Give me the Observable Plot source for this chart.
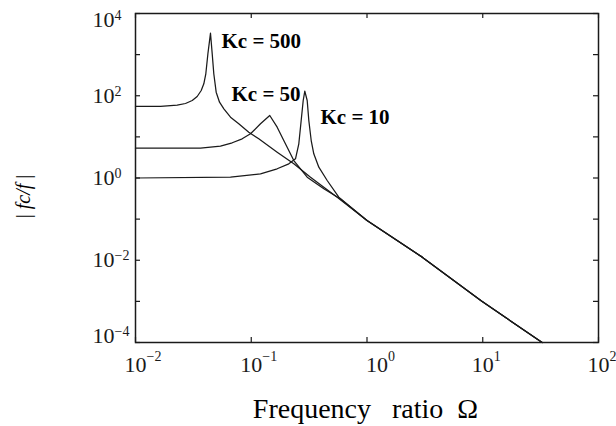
<!DOCTYPE html>
<html><head><meta charset="utf-8">
<script src="https://cdn.jsdelivr.net/npm/d3@7"></script>
<script src="https://cdn.jsdelivr.net/npm/@observablehq/plot@0.6"></script>
<style>body{margin:0;background:#fff;} svg{display:block;}</style>
</head><body><div id="chart"></div>
<script>
// ---- data ----
const omega500 = [0.01, 0.01645, 0.02291, 0.02704, 0.03090, 0.03412, 0.03696, 0.03892, 0.04050, 0.04222, 0.04446,
  0.04599, 0.04747, 0.04977, 0.0532, 0.058, 0.0662, 0.078, 0.0952, 0.1161, 0.1675, 0.2332, 0.325, 0.4236, 0.553,
  1, 3, 9.75, 32.6];
const mag500   = [54.8, 55.5, 58.9, 64.8, 76.6, 95.9, 134, 195, 342, 1047, 3320,
  1047, 342, 122, 69.7, 48.2, 30.1, 20.8, 13.0, 8.98, 4.24, 2.21, 1.046, 0.597, 0.341,
  0.0926, 0.0119, 0.00102, 0.0001];
const omega50  = [0.01, 0.03644, 0.0542, 0.0685, 0.0835, 0.0985, 0.1202, 0.1445,
  0.1675, 0.191, 0.2332, 0.3043, 0.4236, 0.5904, 1, 3, 9.75, 32.6];
const mag50    = [5.30, 5.30, 5.93, 7.18, 8.98, 11.9, 20.8, 33.1,
  17.2, 8.16, 2.66, 1.046, 0.546, 0.3086, 0.0926, 0.0119, 0.00102, 0.0001];
const omega10  = [0.01, 0.0662, 0.1202, 0.1675, 0.2111, 0.2411, 0.2576, 0.270, 0.2811, 0.2902,
  0.3043, 0.3143, 0.3296, 0.347, 0.3835, 0.453, 0.5705, 1, 3, 9.75, 32.6];
const mag10    = [1.0, 1.046, 1.265, 1.674, 2.21, 2.93, 6.79, 25.0, 76.6, 129,
  76.6, 25.0, 8.16, 3.88, 1.83, 0.869, 0.341, 0.0926, 0.0119, 0.00102, 0.0001];

const kcLabels = ["Kc = 500", "Kc = 50", "Kc = 10"];
const kcLabelX = [0.0553, 0.0675, 0.3965];
const kcLabelY = [1466, 76.6, 20.8];

const xTickValues = [0.01, 0.1, 1, 10, 100];
const xTickExps   = ["\u22122", "\u22121", "0", "1", "2"];
const yTickValues = [1e4, 1e2, 1, 1e-2, 1e-4];
const yTickExps   = ["4", "2", "0", "\u22122", "\u22124"];
const yMinorTicks = [1e4, 1e3, 1e2, 1e1, 1, 1e-1, 1e-2, 1e-3, 1e-4];

const xLabel = "Frequency\u00a0\u00a0\u00a0ratio\u00a0\u00a0\u03a9";
const yLabel = "| fc/f |";
const yLabelAt = [0.355];

// ---- layout ----
const W = 616, H = 426, mL = 135, mT = 13, mR = 18, mB = 84;
const innerW = W - mL - mR, innerH = H - mT - mB;
const serif = "'Liberation Serif', 'Times New Roman', serif";
const ink = "#1a1a1a";

const series = [
  ...omega500.map((x, i) => ({kc: "500", x, y: mag500[i]})),
  ...omega50.map((x, i) => ({kc: "50", x, y: mag50[i]})),
  ...omega10.map((x, i) => ({kc: "10", x, y: mag10[i]}))
];
const xTicks = xTickValues.map((v, i) => ({v, e: xTickExps[i]}));
const yTicks = yTickValues.map((v, i) => ({v, e: yTickExps[i]}));
const kc = kcLabels.map((t, i) => ({t, x: kcLabelX[i], y: kcLabelY[i]}));

function xLabelMarks(data, extraDx) {
  return [
    Plot.text(data, {x: "v", text: () => "10", frameAnchor: "bottom", lineAnchor: "bottom",
      textAnchor: "middle", dy: 29, dx: extraDx, fontSize: 22, fontFamily: serif, fill: ink}),
    Plot.text(data, {x: "v", text: "e", frameAnchor: "bottom", lineAnchor: "bottom",
      textAnchor: "start", dy: 18.5, dx: 11 + extraDx, fontSize: 14, fontFamily: serif, fill: ink})
  ];
}
function yLabelMarks(data, extraDy) {
  return [
    Plot.text(data, {y: "v", text: () => "10", frameAnchor: "left", lineAnchor: "middle",
      textAnchor: "end", dx: -21, dy: extraDy, fontSize: 22, fontFamily: serif, fill: ink}),
    Plot.text(data, {y: "v", text: "e", frameAnchor: "left", lineAnchor: "bottom",
      textAnchor: "start", dx: -21, dy: extraDy, fontSize: 14, fontFamily: serif, fill: ink})
  ];
}

const chart = Plot.plot({
  width: W, height: H,
  marginLeft: mL, marginTop: mT, marginRight: mR, marginBottom: mB,
  style: {background: "#fff", fontFamily: serif},
  x: {type: "log", domain: [0.01, 100], axis: null},
  y: {type: "log", domain: [1e-4, 1e4], axis: null},
  marks: [
    Plot.line(series, {x: "x", y: "y", z: "kc", stroke: ink, strokeWidth: 1.25}),
    Plot.frame({stroke: ink, strokeWidth: 1.5}),
    Plot.tickX(xTickValues, {x: d => d, stroke: ink, strokeWidth: 1.2, insetTop: innerH - 5}),
    Plot.tickX(xTickValues, {x: d => d, stroke: ink, strokeWidth: 1.2, insetBottom: innerH - 5}),
    Plot.tickY(yMinorTicks, {y: d => d, stroke: ink, strokeWidth: 1.2, insetRight: innerW - 5}),
    Plot.tickY(yMinorTicks, {y: d => d, stroke: ink, strokeWidth: 1.2, insetLeft: innerW - 5}),
    ...xLabelMarks(xTicks.filter(d => d.v !== 1), 0),
    ...xLabelMarks(xTicks.filter(d => d.v === 1), 10),
    ...yLabelMarks(yTicks.filter(d => d.v !== 1e4 && d.v !== 1e-4), 0),
    ...yLabelMarks(yTicks.filter(d => d.v === 1e4), 6),
    ...yLabelMarks(yTicks.filter(d => d.v === 1e-4), -7),
    Plot.text(kc, {x: "x", y: "y", text: "t", textAnchor: "start", lineAnchor: "bottom",
      fontSize: 21, fontWeight: "bold", fontFamily: serif, fill: "#000"}),
    Plot.text([xLabel], {text: d => d, frameAnchor: "bottom", lineAnchor: "bottom", textAnchor: "middle",
      dy: 75, dx: -1.5, fontSize: 28, fontFamily: serif, fill: "#000"}),
    Plot.text(yLabelAt, {y: d => d, text: () => yLabel, frameAnchor: "left", lineAnchor: "middle",
      textAnchor: "middle", rotate: -90, dx: -112, fontSize: 20, fontFamily: serif, fill: "#000"})
  ]
});

// italic for the quantity name inside the y label
chart.querySelectorAll("text").forEach(t => {
  if (t.textContent === yLabel) {
    t.textContent = "";
    const ns = "http://www.w3.org/2000/svg";
    const a = document.createElementNS(ns, "tspan"); a.textContent = "|\u00a0";
    const b = document.createElementNS(ns, "tspan"); b.textContent = "fc/f"; b.setAttribute("font-style", "italic");
    const c = document.createElementNS(ns, "tspan"); c.textContent = "\u00a0|";
    t.append(a, b, c);
  }
});

document.getElementById("chart").appendChild(chart);
</script>
</body></html>
